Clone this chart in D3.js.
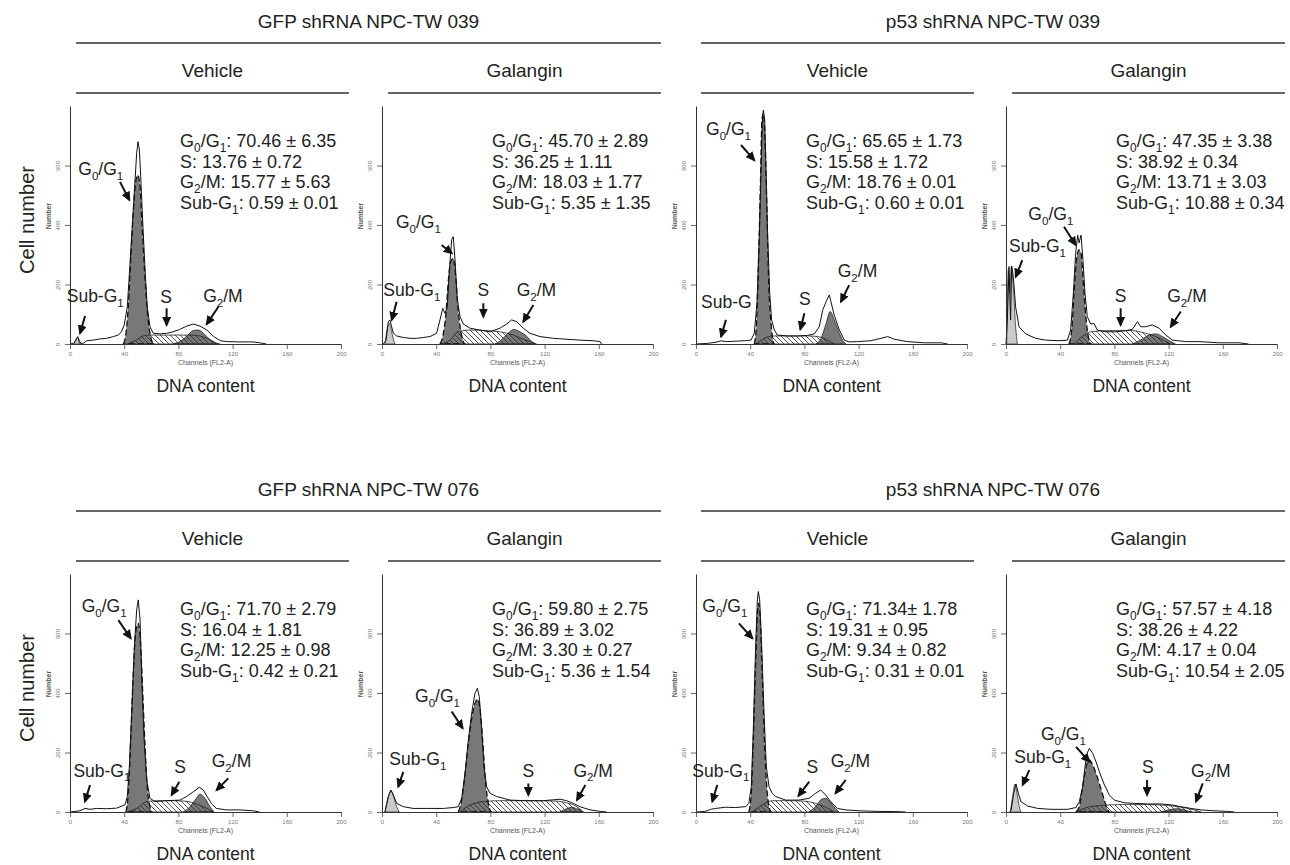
<!DOCTYPE html>
<html>
<head>
<meta charset="utf-8">
<script src="https://cdn.jsdelivr.net/npm/d3@7"></script>
<style>
  body { margin: 0; background: #fff; }
  svg { display: block; font-family: "Liberation Sans", Arial, sans-serif; }
</style>
</head>
<body>
<svg id="chart" width="1290" height="865"></svg>
<script>
// ---- labels ----
const groupTitles = ["GFP shRNA NPC-TW 039", "p53 shRNA NPC-TW 039", "GFP shRNA NPC-TW 076", "p53 shRNA NPC-TW 076"];
const treatments = ["Vehicle", "Galangin", "Vehicle", "Galangin", "Vehicle", "Galangin", "Vehicle", "Galangin"];
const xTicks = [0, 40, 80, 120, 160, 200];
const yTicks = [0, 200, 400, 600];

// ---- phase percentages (mean ± SD) ----
const g1Stats = ["70.46 ± 6.35", "45.70 ± 2.89", "65.65 ± 1.73", "47.35 ± 3.38", "71.70 ± 2.79", "59.80 ± 2.75", "71.34± 1.78", "57.57 ± 4.18"];
const sStats = ["13.76 ± 0.72", "36.25 ± 1.11", "15.58 ± 1.72", "38.92 ± 0.34", "16.04 ± 1.81", "36.89 ± 3.02", "19.31 ± 0.95", "38.26 ± 4.22"];
const g2Stats = ["15.77 ± 5.63", "18.03 ± 1.77", "18.76 ± 0.01", "13.71 ± 3.03", "12.25 ± 0.98", "3.30 ± 0.27", "9.34 ± 0.82", "4.17 ± 0.04"];
const subStats = ["0.59 ± 0.01", "5.35 ± 1.35", "0.60 ± 0.01", "10.88 ± 0.34", "0.42 ± 0.21", "5.36 ± 1.54", "0.31 ± 0.01", "10.54 ± 2.05"];

// ---- histograms: [channel, count] ----
const total1 = [[0,0],[2.5,2],[4.4,13],[5.7,25],[6.9,4],[9.8,2],[12.3,11],[17,13],[22,17],[27,19],[32,25],[35.7,30],[38,41],[40,64],[42.3,125],[44.3,271],[46.2,417],[48,551],[49.2,641],[50.2,680],[51.2,652],[52.2,562],[53.6,417],[55.4,249],[57,125],[59,58],[61.5,36],[66.4,34],[71.3,36],[76,41],[81,49],[86,60],[91,67],[96,60],[101,47],[106,25],[111,11],[116,8],[125,7],[135,7],[140,4],[145,0]];
const g1Peak1 = [[39.4,0],[41.3,36],[43,125],[44.8,282],[46.7,439],[48.5,546],[50,568],[51.7,529],[53,417],[55,249],[57,114],[59,36],[61,4],[62,0]];
const sPhase1 = [[42.3,0],[48,11],[54,27],[59,30],[76,30],[88.6,30],[96,27],[101,19],[106,8],[109.5,0]];
const g2Peak1 = [[76,0],[81,8],[86,25],[91,45],[94.7,47],[98.4,36],[103,16],[108,2],[110.7,0]];
const subG1_1 = [[3,0],[5.5,22],[8,0]];

const total2 = [[1,0],[3,13],[4.7,75],[5.9,81],[7.1,58],[8.4,36],[10.8,27],[15.7,22],[20.7,19],[25.6,19],[30.5,22],[35.4,25],[40.3,36],[42.8,81],[44.8,120],[46.5,103],[48.2,125],[49.7,249],[51.4,350],[52.6,361],[53.9,282],[55.6,148],[57.6,92],[60,67],[65,53],[72.3,47],[79.7,41],[87,53],[92,67],[95.7,81],[99.4,75],[104.3,53],[109.2,36],[116.6,25],[126.4,19],[136.3,16],[146,13],[156,11],[161,8],[162,0]];
const g1Peak2 = [[42.8,0],[45.3,36],[47.2,103],[49,215],[50.7,277],[52.6,288],[54.4,226],[56,125],[58,47],[60,8],[61.3,0]];
const sPhase2 = [[44,0],[50,13],[56,41],[65,47],[77,45],[87,41],[97,30],[104,16],[112,4],[114,0]];
const g2Peak2 = [[83.4,0],[88,13],[93,36],[97.4,49],[101.8,41],[107,25],[110.5,8],[113,0]];
const subG1_2 = [[2.2,0],[3.9,53],[5.4,69],[7.1,41],[8.9,8],[9.6,0]];

const total3 = [[0,0],[8.6,2],[14.8,6],[18.5,11],[22,8],[28,9],[35.7,11],[40.6,13],[43,36],[45,137],[46.7,361],[48,585],[49,753],[49.7,786],[50.7,753],[51.7,585],[52.9,361],[54.4,170],[55.8,81],[57.8,47],[60,30],[67.6,27],[75,27],[82.4,29],[87.3,34],[91,58],[93.5,114],[96,142],[98.4,165],[99.6,142],[102,97],[105.8,47],[109.5,13],[113,7],[119.3,8],[129,11],[136.5,19],[141.5,25],[146.4,16],[156,8],[168.5,4],[181,4],[185.7,0]];
const g1Peak3 = [[43,0],[44.5,58],[46,249],[47.5,529],[48.7,753],[49.7,775],[50.9,697],[52.2,473],[53.6,215],[55.4,69],[57,8],[57.8,0]];
const sPhase3 = [[44.3,0],[50.4,19],[56.6,27],[70,27],[82.4,27],[89.8,25],[97,13],[102,0]];
const g2Peak3 = [[88.6,0],[92.3,19],[96,69],[99,109],[102,81],[105.8,36],[109.5,4],[110.7,0]];
const subG1_3 = [];

const total4 = [[0,0],[1,81],[2.2,260],[3.4,81],[4.2,262],[5.4,226],[7.1,125],[9.6,58],[14.5,34],[21.9,19],[29.3,13],[39,11],[45.3,13],[47.7,47],[49.7,170],[51.4,305],[52.9,366],[53.9,340],[55.4,366],[56.8,282],[58.3,170],[60,92],[62.5,67],[65,69],[67.4,47],[73.6,41],[81,41],[88.3,45],[93.2,49],[97,75],[99.4,58],[103,58],[108,64],[113,53],[118,30],[122.8,13],[132.6,8],[142.4,8],[157,4],[172,4],[179,0]];
const g1Peak4 = [[46.5,0],[48.5,47],[50.2,170],[51.9,282],[53.9,316],[55.4,305],[56.8,226],[58.3,125],[60,47],[61.7,8],[62.7,0]];
const sPhase4 = [[50.2,0],[56.3,25],[62.5,41],[76,45],[93.2,45],[103,36],[110.5,25],[118,8],[121.5,0]];
const g2Peak4 = [[93.2,0],[99.4,13],[105.5,30],[110.5,34],[115.4,25],[121.5,8],[125,0]];
const subG1_4 = [[0.5,0],[1.7,249],[2.7,170],[3.9,260],[5.4,193],[7.1,58],[8.4,0]];

const total5 = [[0,0],[7.4,4],[11,12],[14.8,9],[19.7,12],[27,11],[34.4,13],[40.6,24],[42.3,52],[43.8,152],[45.5,332],[47.5,556],[49.2,679],[50.4,713],[51.7,645],[52.9,466],[54.6,253],[56.6,108],[59,46],[62.7,35],[71.3,38],[81.2,40],[86,52],[91,68],[95.4,83],[98.4,74],[100.9,54],[104.6,27],[108,12],[115.6,7],[125.5,7],[135.3,4],[140,0]];
const g1Peak5 = [[41.3,0],[43,63],[44.8,242],[46.7,466],[48.7,612],[50.4,634],[52.2,556],[53.6,410],[55.4,220],[57,85],[59,18],[60.5,0]];
const sPhase5 = [[42.3,0],[49.2,12],[56.6,35],[64,38],[76.3,38],[86,36],[93.5,27],[101,12],[105.8,0]];
const g2Peak5 = [[83.6,0],[88.6,18],[92.3,40],[96,60],[99.6,46],[103.3,18],[106.3,0]];
const subG1_5 = [];

const total6 = [[2.2,0],[4.7,52],[6.6,74],[8.4,57],[10.8,29],[15.7,18],[23,12],[33,12],[45.3,12],[52.6,15],[56.3,18],[58.8,46],[61.3,130],[63.7,242],[66.2,332],[68.6,399],[70.4,416],[71.8,388],[73.6,276],[75.3,152],[77.2,85],[79.7,63],[84.6,52],[94.5,40],[106.8,38],[119,38],[131.4,43],[136.3,38],[141.2,29],[146,18],[153.5,7],[161,2],[165.8,0]];
const g1Peak6 = [[56.3,0],[58.8,40],[61.3,130],[63.7,231],[66.2,315],[68.6,365],[70.4,379],[72.3,348],[74.3,242],[76.3,108],[78.5,29],[80.2,0]];
const sPhase6 = [[57.6,0],[65,24],[74.8,35],[87,38],[106.8,38],[126.4,37],[136.3,31],[143.7,18],[148.6,0]];
const g2Peak6 = [[131.4,0],[136.3,11],[140,16],[143.7,11],[148.6,0]];
const subG1_6 = [[2.2,0],[4.7,52],[6.6,72],[8.4,54],[10.8,18],[12.8,0]];

const total7 = [[0,0],[7,2],[10.8,9],[14.5,12],[21.9,16],[29.3,15],[36.7,18],[39,29],[40.8,85],[42.3,276],[44,556],[45.3,713],[46,741],[47,713],[48.5,556],[50.2,332],[51.9,152],[53.9,85],[56.3,63],[58.8,52],[66.2,40],[76,40],[83.4,46],[88.3,63],[92,74],[95.7,57],[99.4,35],[104.3,12],[110.5,7],[120.3,4],[135,2],[150,1],[154.7,0]];
const g1Peak7 = [[39,0],[40.8,63],[42.3,242],[44,500],[45.5,679],[46.2,701],[47.2,668],[49,444],[50.7,220],[52.4,74],[53.9,18],[55.1,0]];
const sPhase7 = [[41.6,0],[49,24],[56.3,38],[68.6,38],[81,36],[88.3,29],[95.7,16],[101.8,0]];
const g2Peak7 = [[83.4,0],[88.3,18],[92.7,43],[95.7,46],[99.4,31],[103,11],[105.5,0]];
const subG1_7 = [];

const total8 = [[2.5,0],[3.7,4],[5.7,63],[7.4,94],[9.1,63],[11,35],[16,20],[23.4,12],[33.2,9],[45.5,9],[51.7,15],[54.1,35],[56.6,85],[58.3,152],[59.8,197],[61.5,214],[64,197],[66.4,169],[68.9,135],[72.6,91],[76.3,57],[80,40],[87.3,31],[94.7,29],[104.5,27],[114.4,27],[121.8,24],[129,18],[136.5,12],[144,7],[153.7,4],[163.6,2],[168.5,0]];
const g1Peak8 = [[51.7,0],[54.1,18],[55.8,63],[57.8,119],[59.8,164],[61.5,175],[64,158],[66.4,130],[69.6,85],[72.6,40],[75,7],[76.3,0]];
const sPhase8 = [[51.7,0],[60.3,16],[70,22],[84.9,25],[104.5,25],[119.3,22],[129,16],[139,7],[144,0]];
const g2Peak8 = [[114.4,0],[121.8,9],[126.7,11],[131.6,7],[136.5,0]];
const subG1_8 = [[3.2,0],[4.9,52],[6.6,94],[8.1,63],[9.8,18],[11,0]];

const totals = [total1, total2, total3, total4, total5, total6, total7, total8];
const g1Peaks = [g1Peak1, g1Peak2, g1Peak3, g1Peak4, g1Peak5, g1Peak6, g1Peak7, g1Peak8];
const sPhases = [sPhase1, sPhase2, sPhase3, sPhase4, sPhase5, sPhase6, sPhase7, sPhase8];
const g2Peaks = [g2Peak1, g2Peak2, g2Peak3, g2Peak4, g2Peak5, g2Peak6, g2Peak7, g2Peak8];
const subG1s = [subG1_1, subG1_2, subG1_3, subG1_4, subG1_5, subG1_6, subG1_7, subG1_8];

// arrow labels, in data units: label, text x/y, anchor, arrow from, arrow to
const notes = [
  [["G_0/G_1", 6.1, 568, "start", [36.9,545], [43.8,484]], ["Sub-G_1", -2.4, 142, "start", [11.1,94], [7.4,36]], ["S", 71, 137, "middle", [71.3,120], [71.3,64]], ["G_2/M", 98.3, 142, "start", [109.5,125], [100.9,67]]],
  [["G_0/G_1", 10.3, 389, "start", [44,333], [51.5,305]], ["Sub-G_1", 1, 162, "start", [10.8,142], [7.2,81]], ["S", 74.8, 162, "middle", [74.8,137], [74.8,92]], ["G_2/M", 99.4, 162, "start", [111.7,131], [104.3,75]]],
  [["G_0/G_1", 7.4, 702, "start", [33.2,669], [43,618]], ["Sub-G", 3.7, 120, "start", [22.1,81], [18.5,25]], ["S", 80.4, 131, "middle", [80,103], [77,49]], ["G_2/M", 104.6, 226, "start", [113,198], [107,142]]],
  [["G_0/G_1", 16.5, 417, "start", [42.8,394], [51.4,333]], ["Sub-G_1", 2.2, 310, "start", [12,282], [7.2,226]], ["S", 84.6, 142, "middle", [84.6,120], [84.6,64]], ["G_2/M", 119, 142, "start", [129,109], [121.6,58]]],
  [["G_0/G_1", 8.6, 673, "start", [35.7,645], [44.8,584]], ["Sub-G_1", 2.5, 119, "start", [14.8,91], [11,35]], ["S", 81.2, 130, "middle", [80.7,102], [75,57]], ["G_2/M", 104.6, 152, "start", [116.8,113], [108.2,74]]],
  [["G_0/G_1", 24.4, 371, "start", [51.4,338], [59.5,282]], ["Sub-G_1", 5.4, 158, "start", [15.7,135], [12,85]], ["S", 108, 119, "middle", [108,96], [108,57]], ["G_2/M", 141.3, 119, "start", [150.1,91], [143.9,40]]],
  [["G_0/G_1", 4.7, 673, "start", [31.7,634], [41.6,584]], ["Sub-G_1", -2.7, 119, "start", [15.7,91], [12,35]], ["S", 85.9, 130, "middle", [83.6,102], [75.6,54]], ["G_2/M", 99.4, 152, "start", [110.5,108], [103,63]]],
  [["G_0/G_1", 25.8, 242, "start", [51.7,219], [61.5,169]], ["Sub-G_1", 6.1, 164, "start", [17.2,141], [12.3,91]], ["S", 104.6, 130, "middle", [104.1,108], [104.1,57]], ["G_2/M", 136.6, 119, "start", [145.2,96], [140.2,35]]]
];

// ---- layout ----
const colX = [70, 382, 696, 1006];
const rowBase = [344, 812];
const rowShift = 468;
const plotW = 271, plotH = 238;
const groupLines = [[76, 661], [701, 1285]];
const subLines = [[76, 349], [388, 661], [701, 974], [1012, 1285]];

const svg = d3.select("#chart");
const defs = svg.append("defs");
defs.append("pattern").attr("id", "hatch")
  .attr("width", 5).attr("height", 5).attr("patternUnits", "userSpaceOnUse")
  .append("path").attr("d", "M-1,-1 L6,6 M-1,4 L1,6 M4,-1 L6,1")
  .attr("stroke", "#2a2a2a").attr("stroke-width", 0.8);
defs.append("marker").attr("id", "arrow")
  .attr("markerUnits", "userSpaceOnUse").attr("markerWidth", 10).attr("markerHeight", 9)
  .attr("refX", 8).attr("refY", 4.5).attr("orient", "auto")
  .append("path").attr("d", "M0,0 L10,4.5 L0,9 Z").attr("fill", "#111");

// text with _x subscripts
function richText(t, str, size) {
  const shift = size * 0.28;
  let down = false;
  str.split(/(_\w)/).forEach(p => {
    if (!p) return;
    if (p[0] === "_") {
      t.append("tspan").attr("font-size", size * 0.66).attr("dy", down ? 0 : shift).text(p.slice(1));
      down = true;
    } else {
      const s = t.append("tspan").text(p);
      if (down) { s.attr("dy", -shift); down = false; }
    }
  });
  return t;
}

// headers
for (let r = 0; r < 2; r++) {
  const dy = r * rowShift;
  groupLines.forEach((l, k) => {
    svg.append("text").attr("x", (l[0] + l[1]) / 2).attr("y", 28 + dy)
      .attr("text-anchor", "middle").attr("font-size", 19).attr("fill", "#222")
      .text(groupTitles[r * 2 + k]);
    svg.append("line").attr("x1", l[0]).attr("x2", l[1]).attr("y1", 43 + dy).attr("y2", 43 + dy)
      .attr("stroke", "#333").attr("stroke-width", 1.6);
  });
  subLines.forEach((l, k) => {
    svg.append("text").attr("x", (l[0] + l[1]) / 2).attr("y", 77 + dy)
      .attr("text-anchor", "middle").attr("font-size", 19).attr("fill", "#222")
      .text(treatments[r * 4 + k]);
    svg.append("line").attr("x1", l[0]).attr("x2", l[1]).attr("y1", 93 + dy).attr("y2", 93 + dy)
      .attr("stroke", "#333").attr("stroke-width", 1.6);
  });
  svg.append("text").attr("transform", `translate(34,${220 + dy}) rotate(-90)`)
    .attr("text-anchor", "middle").attr("font-size", 20).attr("fill", "#222")
    .text("Cell number");
}

// panels
totals.forEach((tot, i) => {
  const r = Math.floor(i / 4), c = i % 4;
  const x = d3.scaleLinear().domain([0, 200]).range([colX[c], colX[c] + plotW]);
  const y = d3.scaleLinear().domain([0, 800]).range([rowBase[r], rowBase[r] - plotH]);
  const g = svg.append("g");
  const area = d3.area().x(d => x(d[0])).y0(y(0)).y1(d => y(d[1])).curve(d3.curveMonotoneX);
  const line = d3.line().x(d => x(d[0])).y(d => y(d[1]));

  g.append("path").datum(sPhases[i]).attr("d", area).attr("fill", "#fff");
  g.append("path").datum(g1Peaks[i]).attr("d", area).attr("fill", "#787878");
  g.append("path").datum(g2Peaks[i]).attr("d", area).attr("fill", "#787878")
    .attr("stroke", "#222").attr("stroke-width", 0.8);
  g.append("path").datum(sPhases[i]).attr("d", area).attr("fill", "url(#hatch)")
    .attr("stroke", "#222").attr("stroke-width", 0.8);
  if (subG1s[i].length) {
    g.append("path").datum(subG1s[i]).attr("d", area).attr("fill", "#cacaca")
      .attr("stroke", "#333").attr("stroke-width", 0.8);
  }
  g.append("path").datum(g1Peaks[i]).attr("d", area).attr("fill", "none")
    .attr("stroke", "#111").attr("stroke-width", 1.3).attr("stroke-dasharray", "6,3");
  g.append("path").datum(tot).attr("d", line).attr("fill", "none")
    .attr("stroke", "#111").attr("stroke-width", 1);

  // axes
  const xa = g.append("g").attr("transform", `translate(0,${y(0)})`);
  xa.call(d3.axisBottom(x).tickValues(d3.range(0, 201, 8)).tickSize(3).tickSizeOuter(0).tickFormat(""));
  xa.call(d3.axisBottom(x).tickValues(xTicks).tickSize(5).tickSizeOuter(0).tickPadding(3));
  const ya = g.append("g").attr("transform", `translate(${x(0)},0)`);
  ya.call(d3.axisLeft(y).tickValues(d3.range(0, 801, 40)).tickSize(3).tickSizeOuter(0).tickFormat(""));
  ya.call(d3.axisLeft(y).tickValues(yTicks).tickSize(5).tickSizeOuter(0));
  ya.selectAll(".tick text")
    .attr("x", 0).attr("y", 0).attr("dy", 0)
    .attr("text-anchor", "middle")
    .attr("transform", "translate(-10,0) rotate(-90)");
  [xa, ya].forEach(a => {
    a.selectAll(".domain").attr("stroke", "#333").attr("stroke-width", 1);
    a.selectAll(".tick line").attr("stroke", "#444").attr("stroke-width", 0.8);
    a.selectAll(".tick text").attr("font-size", 6).attr("fill", "#777").attr("font-family", "Liberation Sans, Arial, sans-serif");
  });

  g.append("text").attr("transform", `translate(${x(0) - 19},${y(430)}) rotate(-90)`)
    .attr("text-anchor", "middle").attr("font-size", 7).attr("font-weight", "bold").attr("fill", "#555")
    .text("Number");
  g.append("text").attr("x", x(100)).attr("y", y(0) + 21)
    .attr("text-anchor", "middle").attr("font-size", 7).attr("fill", "#555")
    .text("Channels (FL2-A)");
  g.append("text").attr("x", x(100)).attr("y", y(0) + 48)
    .attr("text-anchor", "middle").attr("font-size", 17.5).attr("fill", "#222")
    .text("DNA content");

  // stats block
  const statLines = ["G_0/G_1: " + g1Stats[i], "S: " + sStats[i], "G_2/M: " + g2Stats[i], "Sub-G_1: " + subStats[i]];
  statLines.forEach((s, k) => {
    richText(g.append("text").attr("x", x(0) + 110).attr("y", y(0) - 197 + k * 20.6)
      .attr("font-size", 18).attr("fill", "#222"), s, 18);
  });

  // phase labels with arrows
  notes[i].forEach(n => {
    richText(g.append("text").attr("x", x(n[1])).attr("y", y(n[2]))
      .attr("text-anchor", n[3]).attr("font-size", 17.5).attr("fill", "#222"), n[0], 17.5);
    g.append("line")
      .attr("x1", x(n[4][0])).attr("y1", y(n[4][1]))
      .attr("x2", x(n[5][0])).attr("y2", y(n[5][1]))
      .attr("stroke", "#111").attr("stroke-width", 2).attr("marker-end", "url(#arrow)");
  });
});
</script>
</body>
</html>
